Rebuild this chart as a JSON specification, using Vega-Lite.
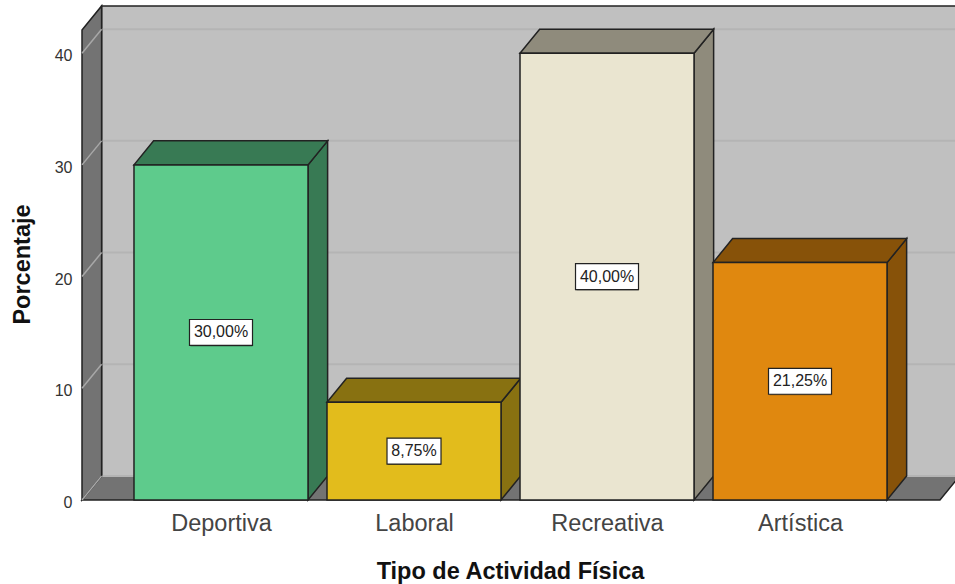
{
  "$schema": "https://vega.github.io/schema/vega-lite/v6.json",
  "width": 873,
  "height": 500,
  "autosize": "none",
  "padding": {"left": 82, "top": 0, "right": 0, "bottom": 84},
  "background": "white",
  "config": {"view": {"stroke": null}, "font": "Liberation Sans"},
  "datasets": {
    "barras": [
      {"actividad": "Deportiva", "orden": 1, "porcentaje": 30, "etiqueta": "30,00%"},
      {"actividad": "Laboral", "orden": 2, "porcentaje": 8.75, "etiqueta": "8,75%"},
      {"actividad": "Recreativa", "orden": 3, "porcentaje": 40, "etiqueta": "40,00%"},
      {"actividad": "Artística", "orden": 4, "porcentaje": 21.25, "etiqueta": "21,25%"}
    ],
    "marcas": [{"marca": 0}, {"marca": 10}, {"marca": 20}, {"marca": 30}, {"marca": 40}],
    "vertices2": [{"t": 0}, {"t": 1}],
    "vertices4": [{"t": 0}, {"t": 1}, {"t": 2}, {"t": 3}],
    "escena": [{"pared": "fondo"}]
  },
  "params": [
    {"name": "dx", "value": 0.1016},
    {"name": "dy", "value": 2.15},
    {"name": "h", "value": 0.4508},
    {"name": "xmin", "value": 0.2798},
    {"name": "xmax", "value": 4.725},
    {"name": "techo", "value": 42.08}
  ],
  "layer": [
    {
      "data": {"name": "escena"},
      "transform": [
        {"calculate": "xmin + dx", "as": "x0"},
        {"calculate": "4.95", "as": "x1"},
        {"calculate": "dy", "as": "y0"},
        {"calculate": "techo + dy", "as": "y1"}
      ],
      "mark": {"type": "rect", "fill": "#C0C0C0", "stroke": "#222222", "strokeWidth": 1.5},
      "encoding": {
        "x": {
          "field": "x0",
          "type": "quantitative",
          "scale": {"domain": [0.2798, 4.803], "nice": false, "zero": false},
          "axis": {
            "values": [1, 2, 3, 4],
            "labelExpr": "['', 'Deportiva', 'Laboral', 'Recreativa', 'Artística'][datum.value]",
            "labelFontSize": 23.5,
            "labelColor": "#444444",
            "labelPadding": 11,
            "domain": false,
            "ticks": false,
            "grid": false,
            "title": "Tipo de Actividad Física",
            "titleFontSize": 23.5,
            "titleFontWeight": "bold",
            "titleColor": "#111111",
            "titleX": 428,
            "titleY": 59
          }
        },
        "x2": {"field": "x1"},
        "y": {
          "field": "y0",
          "type": "quantitative",
          "scale": {"domain": [0, 44.76], "nice": false},
          "axis": {
            "values": [0, 10, 20, 30, 40],
            "labelFontSize": 16,
            "labelColor": "#333333",
            "labelPadding": 10,
            "labelOffset": 2.5,
            "domain": false,
            "ticks": false,
            "grid": false,
            "title": "Porcentaje",
            "titleFontSize": 23.5,
            "titleFontWeight": "bold",
            "titleColor": "#111111",
            "titleX": -48,
            "titleY": 264
          }
        },
        "y2": {"field": "y1"}
      }
    },
    {
      "data": {"name": "vertices4"},
      "transform": [
        {"calculate": "[xmin, xmin + dx, xmax, xmax + dx][datum.t]", "as": "px"},
        {"calculate": "[0, dy, dy, dy][datum.t]", "as": "sup"},
        {"calculate": "[0, 0, 0, dy][datum.t]", "as": "inf"}
      ],
      "mark": {"type": "area", "fill": "#737373", "stroke": "#222222", "strokeWidth": 1.5},
      "encoding": {
        "x": {"field": "px", "type": "quantitative"},
        "y": {"field": "sup", "type": "quantitative"},
        "y2": {"field": "inf"}
      }
    },
    {
      "data": {"name": "marcas"},
      "transform": [
        {"calculate": "xmin + dx", "as": "x0"},
        {"calculate": "4.95", "as": "x1"},
        {"calculate": "datum.marca + dy", "as": "yb"}
      ],
      "mark": {"type": "rule", "stroke": "#B4B4B4", "strokeWidth": 2},
      "encoding": {
        "x": {"field": "x0", "type": "quantitative"},
        "x2": {"field": "x1"},
        "y": {"field": "yb", "type": "quantitative"}
      }
    },
    {
      "data": {"name": "vertices2"},
      "transform": [
        {"calculate": "xmin + datum.t * dx", "as": "px"},
        {"calculate": "techo + datum.t * dy", "as": "sup"},
        {"calculate": "datum.t * dy", "as": "inf"}
      ],
      "mark": {"type": "area", "fill": "#737373", "stroke": "#222222", "strokeWidth": 1.5},
      "encoding": {
        "x": {"field": "px", "type": "quantitative"},
        "y": {"field": "sup", "type": "quantitative"},
        "y2": {"field": "inf"}
      }
    },
    {
      "data": {"name": "marcas"},
      "transform": [
        {"calculate": "[0, 1]", "as": "t"},
        {"flatten": ["t"]},
        {"calculate": "xmin + datum.t * dx", "as": "px"},
        {"calculate": "datum.marca + datum.t * dy", "as": "py"}
      ],
      "mark": {"type": "line", "stroke": "#A8A8A8", "strokeWidth": 1.5},
      "encoding": {
        "x": {"field": "px", "type": "quantitative"},
        "y": {"field": "py", "type": "quantitative"},
        "detail": {"field": "marca"}
      }
    },
    {
      "data": {"name": "barras"},
      "transform": [
        {"calculate": "[0, 1]", "as": "t"},
        {"flatten": ["t"]},
        {"calculate": "datum.orden + h + datum.t * dx", "as": "px"},
        {"calculate": "datum.porcentaje + datum.t * dy", "as": "sup"},
        {"calculate": "datum.t * dy", "as": "inf"}
      ],
      "mark": {"type": "area", "stroke": "#222222", "strokeWidth": 1.5},
      "encoding": {
        "x": {"field": "px", "type": "quantitative"},
        "y": {"field": "sup", "type": "quantitative"},
        "y2": {"field": "inf"},
        "color": {
          "field": "actividad",
          "type": "nominal",
          "legend": null,
          "scale": {
            "domain": ["Deportiva", "Laboral", "Recreativa", "Artística"],
            "range": ["#387A54", "#887111", "#8F8B7C", "#875209"]
          }
        }
      }
    },
    {
      "data": {"name": "barras"},
      "transform": [
        {"calculate": "[0, 1, 2, 3]", "as": "t"},
        {"flatten": ["t"]},
        {"calculate": "[datum.orden - h, datum.orden - h + dx, datum.orden + h, datum.orden + h + dx][datum.t]", "as": "px"},
        {"calculate": "datum.porcentaje + [0, dy, dy, dy][datum.t]", "as": "sup"},
        {"calculate": "datum.porcentaje + [0, 0, 0, dy][datum.t]", "as": "inf"}
      ],
      "mark": {"type": "area", "stroke": "#222222", "strokeWidth": 1.5},
      "encoding": {
        "x": {"field": "px", "type": "quantitative"},
        "y": {"field": "sup", "type": "quantitative"},
        "y2": {"field": "inf"},
        "color": {
          "field": "actividad",
          "type": "nominal",
          "legend": null,
          "scale": {
            "domain": ["Deportiva", "Laboral", "Recreativa", "Artística"],
            "range": ["#387A54", "#887111", "#8F8B7C", "#875209"]
          }
        }
      }
    },
    {
      "data": {"name": "barras"},
      "transform": [
        {"calculate": "datum.orden - h", "as": "x0"},
        {"calculate": "datum.orden + h", "as": "x1"},
        {"calculate": "0", "as": "base"}
      ],
      "mark": {"type": "rect", "stroke": "#222222", "strokeWidth": 1.5},
      "encoding": {
        "x": {"field": "x0", "type": "quantitative"},
        "x2": {"field": "x1"},
        "y": {"field": "porcentaje", "type": "quantitative"},
        "y2": {"field": "base"},
        "color": {
          "field": "actividad",
          "type": "nominal",
          "legend": null,
          "scale": {
            "domain": ["Deportiva", "Laboral", "Recreativa", "Artística"],
            "range": ["#5ECB8C", "#E2BC1C", "#EAE5D0", "#E0880F"]
          }
        }
      }
    },
    {
      "data": {"name": "barras"},
      "transform": [
        {"calculate": "(4.5 * length(datum.etiqueta) + 4.5) / 193", "as": "ancho"},
        {"calculate": "datum.orden - datum.ancho", "as": "x0"},
        {"calculate": "datum.orden + datum.ancho", "as": "x1"},
        {"calculate": "datum.porcentaje / 2 - 1.16", "as": "y0"},
        {"calculate": "datum.porcentaje / 2 + 1.16", "as": "y1"}
      ],
      "mark": {"type": "rect", "fill": "#000000", "fillOpacity": 0.35, "xOffset": 1, "yOffset": 1},
      "encoding": {
        "x": {"field": "x0", "type": "quantitative"},
        "x2": {"field": "x1"},
        "y": {"field": "y0", "type": "quantitative"},
        "y2": {"field": "y1"}
      }
    },
    {
      "data": {"name": "barras"},
      "transform": [
        {"calculate": "(4.5 * length(datum.etiqueta) + 4.5) / 193", "as": "ancho"},
        {"calculate": "datum.orden - datum.ancho", "as": "x0"},
        {"calculate": "datum.orden + datum.ancho", "as": "x1"},
        {"calculate": "datum.porcentaje / 2 - 1.16", "as": "y0"},
        {"calculate": "datum.porcentaje / 2 + 1.16", "as": "y1"}
      ],
      "mark": {"type": "rect", "fill": "#FFFFFF", "stroke": "#222222", "strokeWidth": 1.2},
      "encoding": {
        "x": {"field": "x0", "type": "quantitative"},
        "x2": {"field": "x1"},
        "y": {"field": "y0", "type": "quantitative"},
        "y2": {"field": "y1"}
      }
    },
    {
      "data": {"name": "barras"},
      "transform": [{"calculate": "datum.porcentaje / 2", "as": "centro"}],
      "mark": {"type": "text", "fontSize": 16, "color": "#222222", "baseline": "middle"},
      "encoding": {
        "x": {"field": "orden", "type": "quantitative"},
        "y": {"field": "centro", "type": "quantitative"},
        "text": {"field": "etiqueta"}
      }
    }
  ],
  "resolve": {"scale": {"color": "independent"}}
}
